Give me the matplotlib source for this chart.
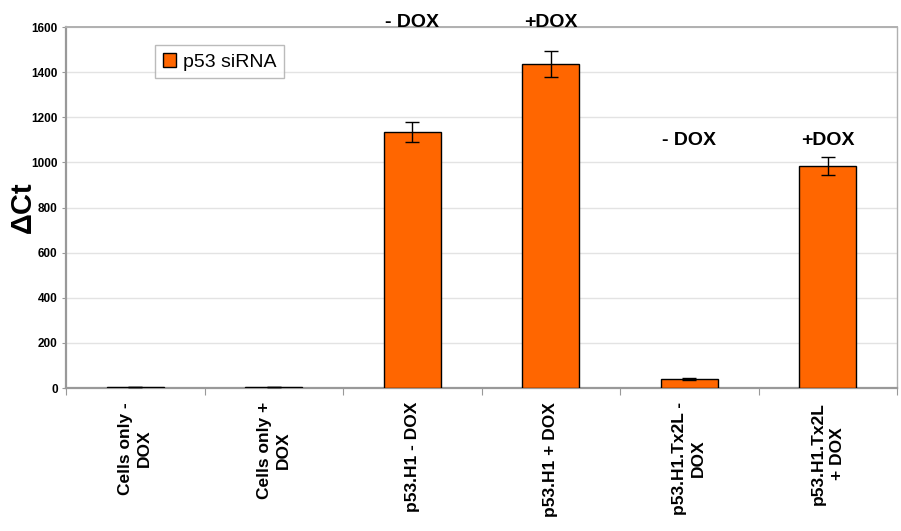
import matplotlib.pyplot as plt
import numpy as np

plt.rcParams["font.family"] = ["Liberation Sans", "DejaVu Sans"]

# qPCR delta-Ct per construct, mean and error
categories = [
    "Cells only -\nDOX",
    "Cells only +\nDOX",
    "p53.H1 - DOX",
    "p53.H1 + DOX",
    "p53.H1.Tx2L -\nDOX",
    "p53.H1.Tx2L\n+ DOX",
]
delta_ct = [3, 3, 1136, 1436, 40, 985]
delta_ct_err = [0, 0, 45, 58, 5, 40]

# condition labels drawn above the bars: (bar index, text, y value)
dox_labels = [
    (2, "- DOX", 1622),
    (3, "+DOX", 1622),
    (4, "- DOX", 1098),
    (5, "+DOX", 1098),
]

fig = plt.figure(figsize=(9.01, 5.31), dpi=100)
ax = fig.add_axes([0.0733, 0.2693, 0.9223, 0.6797])

x = np.arange(len(categories))
ax.bar(x, delta_ct, width=0.41, color="#FF6600", edgecolor="black",
       linewidth=1.0, label="p53 siRNA", zorder=3,
       yerr=delta_ct_err, capsize=5,
       error_kw=dict(ecolor="black", elinewidth=1.0, capthick=1.0, zorder=4))

ax.set_xlim(-0.5, len(categories) - 0.5)
ax.set_ylim(0, 1600)
ax.set_yticks(np.arange(0, 1601, 200))
ax.yaxis.grid(True, color="#e3e3e3", linewidth=1.0, zorder=0)
ax.set_axisbelow(True)

for lbl in ax.get_yticklabels():
    lbl.set_fontweight("bold")
ax.tick_params(axis="y", labelsize=8.5, length=3, color="#999999", pad=3)

# category boundaries carry the x ticks, labels sit at the bar centres
ax.set_xticks(np.arange(-0.5, len(categories), 1.0))
ax.set_xticklabels([])
ax.tick_params(axis="x", length=5, color="#999999")
for i, name in enumerate(categories):
    ax.annotate(name, xy=(i, 0), xycoords=("data", "axes fraction"),
                xytext=(0, -10), textcoords="offset points",
                rotation=90, ha="center", va="top", multialignment="center",
                fontsize=12.5, fontweight="bold", linespacing=1.3)

for spine in ["left", "bottom"]:
    ax.spines[spine].set_color("#999999")
    ax.spines[spine].set_linewidth(1.6)
ax.spines["top"].set_color("#b0b0b0")
ax.spines["top"].set_linewidth(1.4)
ax.spines["right"].set_color("#b0b0b0")
ax.spines["right"].set_linewidth(1.0)

fig.text(23 / 901, 1 - 207 / 531, "ΔCt", rotation=90, ha="center",
         va="center", fontsize=21, fontweight="bold")

for idx, text, yv in dox_labels:
    ax.text(idx, yv, text, ha="center", va="center", fontsize=14,
            fontweight="bold", clip_on=False)

leg = ax.legend(loc="upper left", bbox_to_anchor=(0.107, 0.95), fontsize=14,
                frameon=True, fancybox=False, handlelength=0.7,
                handleheight=0.7, handletextpad=0.35, borderpad=0.4,
                borderaxespad=0)
leg.get_frame().set_edgecolor("#aaaaaa")
leg.get_frame().set_linewidth(1.0)

fig.savefig("out.png", dpi=100)
